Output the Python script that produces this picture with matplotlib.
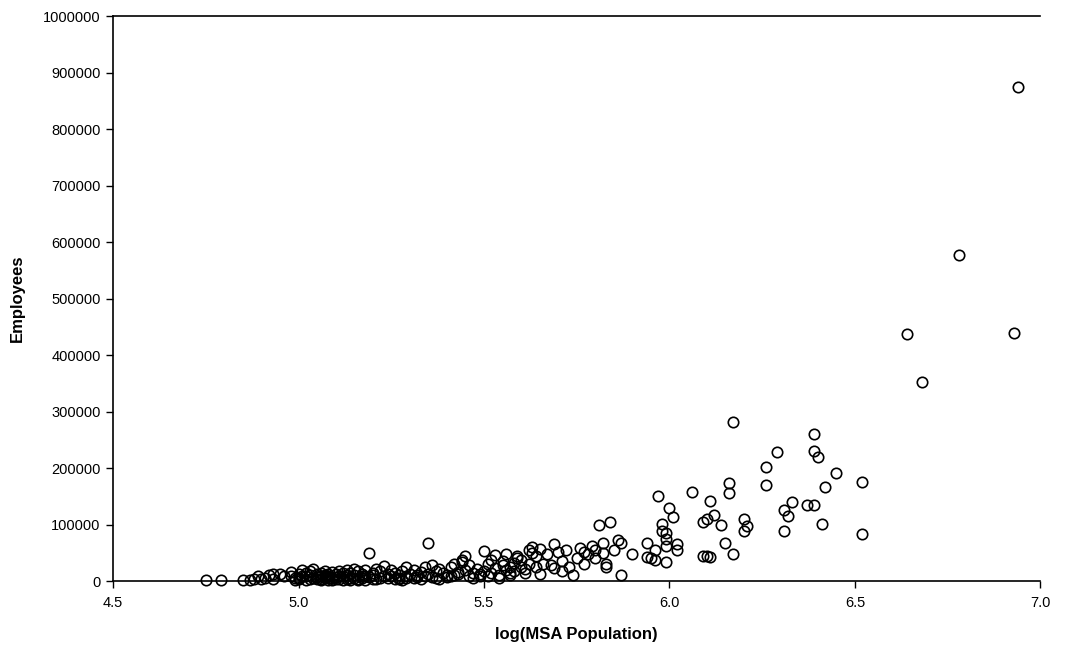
import numpy as np
import matplotlib
matplotlib.use("Agg")
import matplotlib.pyplot as plt
from matplotlib.ticker import FixedLocator, FormatStrFormatter

# log(MSA population) and number of employees
log_pop = [
    4.75, 4.79, 4.85, 4.87, 4.88, 4.89, 4.90, 4.91, 4.92, 4.93, 4.93, 4.95, 4.96,
    4.98, 4.98, 4.99, 5.00, 5.00, 5.01, 5.01, 5.02, 5.02, 5.03, 5.03, 5.04, 5.04,
    5.05, 5.05, 5.06, 5.06, 5.06, 5.07, 5.07, 5.07, 5.08, 5.08, 5.08, 5.09, 5.09,
    5.10, 5.10, 5.11, 5.11, 5.12, 5.12, 5.13, 5.13, 5.14, 5.14, 5.15, 5.15, 5.16,
    5.16, 5.17, 5.17, 5.18, 5.18, 5.19, 5.19, 5.20, 5.20, 5.21, 5.21, 5.22, 5.23,
    5.23, 5.24, 5.24, 5.25, 5.26, 5.26, 5.27, 5.27, 5.28, 5.28, 5.29, 5.29, 5.30,
    5.31, 5.31, 5.32, 5.33, 5.33, 5.34, 5.35, 5.35, 5.36, 5.36, 5.37, 5.38, 5.38,
    5.39, 5.40, 5.41, 5.41, 5.42, 5.43, 5.43, 5.44, 5.44, 5.45, 5.45, 5.46, 5.46,
    5.47, 5.48, 5.49, 5.50, 5.50, 5.51, 5.51, 5.52, 5.52, 5.53, 5.53, 5.54, 5.55,
    5.55, 5.56, 5.56, 5.57, 5.57, 5.58, 5.58, 5.59, 5.59, 5.60, 5.60, 5.61, 5.62,
    5.62, 5.63, 5.63, 5.64, 5.64, 5.65, 5.65, 5.66, 5.67, 5.68, 5.69, 5.69, 5.70,
    5.71, 5.71, 5.72, 5.73, 5.74, 5.75, 5.76, 5.77, 5.77, 5.78, 5.79, 5.80, 5.80,
    # extra points in the dense band near zero
    4.99, 5.00, 5.02, 5.03, 5.05, 5.06, 5.07, 5.08, 5.09, 5.10, 5.11, 5.12, 5.13,
    5.14, 5.15, 5.16, 5.17, 5.18, 5.20, 5.22, 5.25, 5.27, 5.29, 5.32, 5.34, 5.37,
    5.40, 5.42, 5.47, 5.49, 5.54, 5.57, 5.61,
    # upper half
    5.81, 5.82, 5.82, 5.83, 5.83, 5.84, 5.85, 5.86, 5.87, 5.87, 5.90,
    5.94, 5.94, 5.95, 5.96, 5.96, 5.97, 5.98, 5.98, 5.99, 5.99, 5.99, 5.99,
    6.00, 6.01, 6.02, 6.02, 6.06, 6.09, 6.09, 6.10, 6.10, 6.11, 6.11, 6.12,
    6.14, 6.15, 6.16, 6.16, 6.17, 6.17, 6.20, 6.20, 6.21, 6.26, 6.26, 6.29,
    6.31, 6.31, 6.32, 6.33, 6.37, 6.39, 6.39, 6.39, 6.40, 6.41, 6.42, 6.45,
    6.52, 6.52, 6.64, 6.68, 6.78, 6.93, 6.94,
]
employees = [
    1000, 1000, 1500, 2000, 4000, 8000, 3000, 6000, 10000, 4000, 12000, 13000, 9000,
    8000, 16000, 5000, 12000, 3000, 20000, 8000, 14000, 2000, 10000, 18000, 6000, 22000,
    12000, 4000, 15000, 8000, 1000, 11000, 17000, 5000, 13000, 2000, 9000, 16000, 6000,
    12000, 3000, 18000, 8000, 14000, 2000, 10000, 20000, 6000, 15000, 22000, 11000, 4000,
    17000, 9000, 13000, 2000, 20000, 50000, 7000, 15000, 11000, 22000, 4000, 18000, 9000,
    26000, 13000, 6000, 20000, 3000, 15000, 10000, 6000, 1000, 18000, 24000, 8000, 13000,
    5000, 20000, 10000, 16000, 3000, 24000, 67000, 12000, 28000, 7000, 18000, 22000, 4000,
    14000, 10000, 25000, 8000, 30000, 16000, 12000, 34000, 38000, 20000, 45000, 9000, 28000,
    14000, 22000, 12000, 53000, 18000, 8000, 30000, 38000, 15000, 46000, 23000, 10000, 35000,
    28000, 20000, 48000, 14000, 24000, 32000, 18000, 45000, 40000, 25000, 38000, 22000, 30000,
    55000, 60000, 50000, 45000, 25000, 57000, 12000, 30000, 48000, 28000, 66000, 23000, 52000,
    35000, 18000, 55000, 25000, 10000, 40000, 58000, 30000, 52000, 48000, 62000, 40000, 55000,
    # extra points in the dense band near zero
    2000, 6000, 9000, 4000, 7000, 3000, 8000, 5000, 2000, 7000, 4000, 9000, 3000,
    1000, 6000, 2000, 5000, 8000, 3000, 6000, 9000, 3000, 5000, 7000, 9000, 5000,
    7000, 11000, 6000, 9000, 6000, 10000, 14000,
    # upper half
    100000, 68000, 50000, 30000, 25000, 105000, 55000, 72000, 68000, 10000, 47000,
    68000, 42000, 40000, 55000, 37000, 151000, 101000, 88000, 75000, 85000, 62000, 33000,
    130000, 114000, 65000, 55000, 158000, 104000, 44000, 110000, 45000, 142000, 43000, 117000,
    100000, 68000, 173000, 155000, 282000, 47000, 110000, 88000, 97000, 202000, 170000, 228000,
    125000, 88000, 115000, 140000, 135000, 260000, 230000, 135000, 220000, 101000, 166000, 192000,
    175000, 83000, 438000, 352000, 578000, 440000, 875000,
]

x_ticks = [4.5, 5.0, 5.5, 6.0, 6.5, 7.0]
y_ticks = list(range(0, 1000001, 100000))

plt.rcParams['font.family'] = ['Liberation Sans', 'DejaVu Sans']

fig = plt.figure(figsize=(10.77, 6.51), dpi=100)
ax = fig.add_axes([0.105, 0.1075, 0.861, 0.8675])

ax.plot(log_pop, employees, 'o', markerfacecolor='none', markeredgecolor='black',
        markersize=7.5, markeredgewidth=1.2, linestyle='none', clip_on=False)

ax.set_xlim(4.5, 7.0)
ax.set_ylim(0, 1000000)
ax.xaxis.set_major_locator(FixedLocator(x_ticks))
ax.yaxis.set_major_locator(FixedLocator(y_ticks))
ax.xaxis.set_major_formatter(FormatStrFormatter('%.1f'))
ax.yaxis.set_major_formatter(FormatStrFormatter('%d'))
ax.tick_params(direction='out', length=5, width=1, labelsize=10.5, pad=4)
ax.tick_params(axis='x', pad=6)

ax.spines['right'].set_visible(False)
for s in ['left', 'bottom', 'top']:
    ax.spines[s].set_linewidth(1.2)

ax.set_xlabel('log(MSA Population)', fontsize=12, fontweight='bold', labelpad=12)
ax.set_ylabel('Employees', fontsize=12, fontweight='bold', labelpad=13)

fig.savefig('out.png', dpi=100)
